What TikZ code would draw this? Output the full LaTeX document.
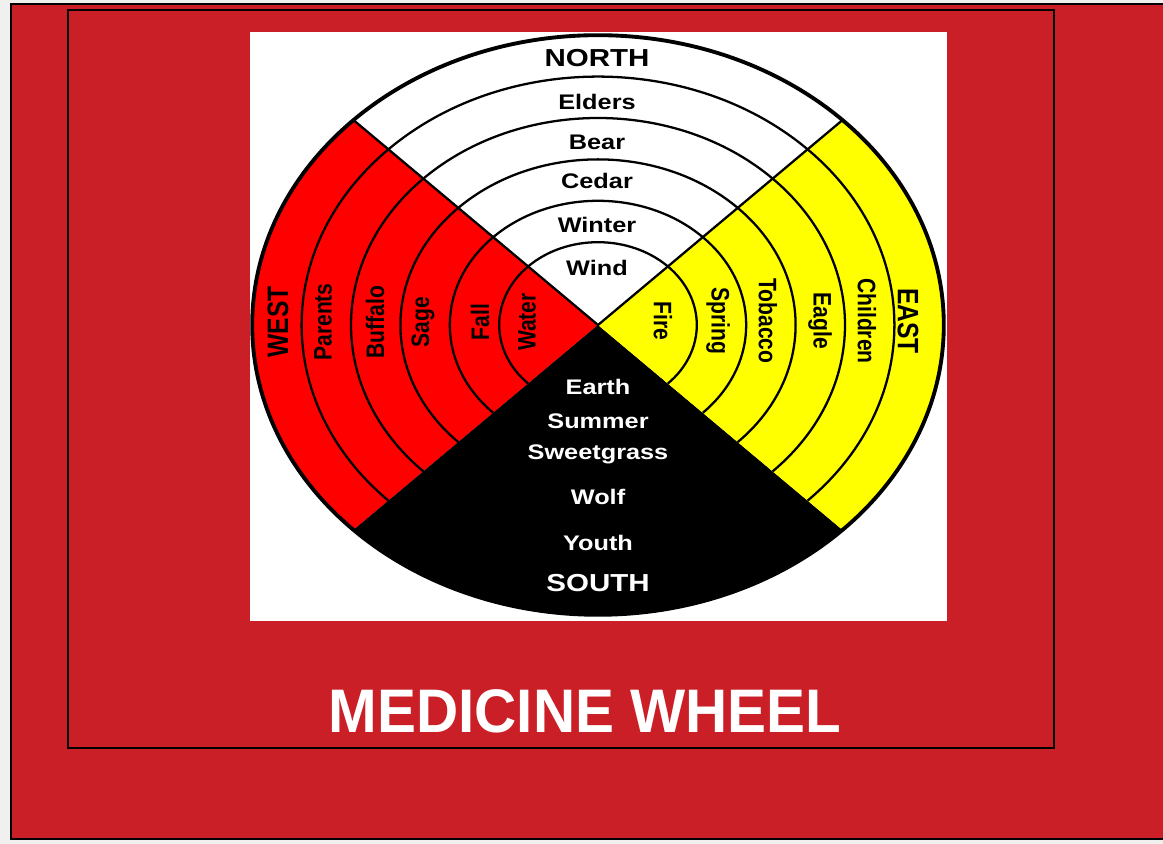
\documentclass[tikz,border=0pt]{standalone}
\usepackage{graphicx}
\usepackage{fontspec}
\setmainfont{Liberation Sans}
\usetikzlibrary{calc}

\definecolor{bgred}{RGB}{202,31,38}
\definecolor{paper}{RGB}{240,240,238}
\definecolor{wred}{RGB}{255,0,0}
\definecolor{wyellow}{RGB}{255,255,0}

\newcommand{\wide}[1]{\scalebox{1.2}[1]{#1}}
\newcommand{\tall}[1]{\scalebox{1}[1.2]{#1}}

\tikzset{
  item/.style={font=\bfseries\fontsize{12}{14}\selectfont, inner sep=0pt},
  dir/.style={font=\bfseries\fontsize{14}{16}\selectfont, inner sep=0pt},
  ring/.style={line width=1.3pt},
  frame/.style={line width=1.2pt}
}

\begin{document}
\begin{tikzpicture}[x=0.02cm, y=0.02cm]
\useasboundingbox (0,0) rectangle (1163,844);
\fill[paper] (0,0) rectangle (1163,844);
\fill[bgred] (11,5) rectangle (1163,840);
\draw[line width=1.5pt] (1163,840) -- (11,840) -- (11,5) -- (1163,5);
\draw[frame] (68,96) rectangle (1054,834);
\fill[white] (250,223) rectangle (947,812);
% the wheel
\begin{scope}[shift={(598,519)}, xscale=49.4, yscale=41.4]
\fill[wred] (0,0) -- (135:7) arc[start angle=135, end angle=225, radius=7] -- cycle;
\fill[black] (0,0) -- (225:7) arc[start angle=225, end angle=315, radius=7] -- cycle;
\fill[wyellow] (0,0) -- (-45:7) arc[start angle=-45, end angle=45, radius=7] -- cycle;
\foreach \r in {2,...,6}
  \draw[ring] (-45:\r) arc[start angle=-45, end angle=225, radius=\r];
\draw[ring] (45:7) -- (0,0) -- (135:7);
\draw[line width=2.2pt] (0,0) circle (7);
\end{scope}
% labels
\foreach \t/\y [count=\i] in {Wind/576,Winter/619,Cedar/663,Bear/702,Elders/742}
  \node[item] (north\i) at (597,\y) {\wide{\t}};
\node[dir] (north) at (597,786) {\wide{NORTH}};
\foreach \t/\y [count=\i] in {Earth/457,Summer/423,Sweetgrass/390,Wolf/347,Youth/301}
  \node[item, white] (south\i) at (598,\y) {\wide{\t}};
\node[dir, white] (south) at (598,261) {\wide{SOUTH}};
\foreach \t/\x [count=\i] in {Fire/663,Spring/718,Tobacco/768,Eagle/820,Children/867}
  \node[item, rotate=-90] (east\i) at (\x,523) {\tall{\t}};
\node[dir, rotate=-90] (east) at (908,523) {\tall{EAST}};
\foreach \t/\x [count=\i] in {Water/527,Fall/480,Sage/423,Buffalo/375,Parents/323}
  \node[item, rotate=90] (west\i) at (\x,522) {\tall{\t}};
\node[dir, rotate=90] (west) at (278,522) {\tall{WEST}};
\node[white, font=\bfseries\fontsize{35}{40}\selectfont, inner sep=0pt] (title) at (585,133)
  {\scalebox{0.95}[1]{MEDICINE WHEEL}};
\end{tikzpicture}
\end{document}
